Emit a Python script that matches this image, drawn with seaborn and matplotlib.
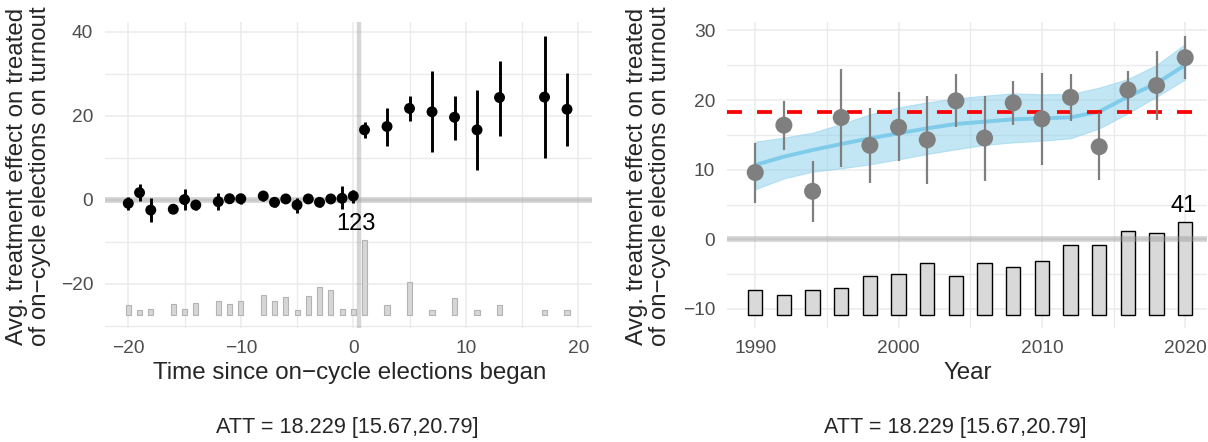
import numpy as np
import matplotlib
matplotlib.use("Agg")
import matplotlib.pyplot as plt
import seaborn as sns

# ---- event-time estimates (left panel) ----
pre_time = [-20, -19, -18, -16, -15, -14, -12, -11, -10, -8, -7, -6, -5, -4, -3, -2, -1, 0]
pre_att = [-0.8, 1.75, -2.4, -2.2, 0.1, -1.2, -0.4, 0.3, 0.3, 0.95, -0.55, 0.25, -1.2, 0.25, -0.55, 0.25, 0.4, 0.95]
pre_lo = [-2.3, -0.2, -5.2, -3.2, -2.5, -2.4, -2.4, -0.8, -0.9, -0.2, -1.6, -0.8, -3.2, -0.8, -1.6, -0.8, -2.1, -0.8]
pre_hi = [0.7, 3.7, 0.4, -1.2, 2.5, 0.0, 1.6, 1.3, 1.4, 2.0, 0.5, 1.3, 0.4, 1.3, 0.5, 1.3, 3.3, 2.4]

post_time = [1, 3, 5, 7, 9, 11, 13, 17, 19]
post_att = [16.7, 17.5, 21.8, 21.0, 19.7, 16.7, 24.4, 24.5, 21.6]
post_lo = [14.7, 12.9, 18.9, 11.4, 14.2, 7.1, 15.3, 9.9, 12.8]
post_hi = [18.6, 21.8, 24.8, 30.6, 24.8, 26.1, 33.2, 39.0, 30.2]

# number of treated units observed at each relative period
event_count = [17, 8, 10, 18, 10, 20, 24, 18, 24, 33, 23, 30, 8, 32, 46, 41, 10, 10,
               123, 16, 54, 8, 28, 8, 17, 9, 8]

# ---- calendar-year estimates (right panel) ----
years = [1990, 1992, 1994, 1996, 1998, 2000, 2002, 2004, 2006, 2008, 2010, 2012, 2014, 2016, 2018, 2020]
year_att = [9.6, 16.4, 6.9, 17.5, 13.5, 16.1, 14.3, 19.9, 14.55, 19.6, 17.3, 20.4, 13.3, 21.45, 22.1, 26.1]
year_lo = [5.2, 12.8, 2.5, 10.4, 8.1, 11.25, 7.9, 16.1, 8.4, 16.4, 10.7, 17.0, 8.5, 18.6, 17.2, 23.0]
year_hi = [13.9, 19.9, 11.25, 24.4, 18.8, 21.1, 20.6, 23.7, 20.6, 22.8, 23.85, 23.7, 18.1, 24.2, 27.05, 29.2]
year_count = [11, 9, 11, 12, 17, 18, 23, 17, 23, 21, 24, 31, 31, 37, 36, 41]

# smoothed trend and its band at each year
trend_fit = [10.68, 11.87, 12.83, 13.69, 14.51, 15.23, 15.94, 16.57, 16.90, 17.24, 17.38, 17.52, 18.34, 20.49, 22.41, 25.04]
trend_lo = [7.18, 8.76, 9.72, 10.20, 10.77, 11.49, 12.26, 12.93, 13.55, 13.93, 14.17, 14.51, 15.94, 18.10, 20.49, 22.98]
trend_hi = [14.03, 14.60, 15.32, 16.57, 17.96, 18.96, 19.68, 20.25, 20.64, 20.97, 20.83, 20.88, 21.79, 23.03, 25.04, 28.06]

att_overall = 18.229
att_text = "ATT = 18.229 [15.67,20.79]"
ylabel_text = "Avg. treatment effect on treated\nof on\u2212cycle elections on turnout"

sns.set_theme(style="whitegrid")
plt.rcParams["font.family"] = ["Liberation Sans", "DejaVu Sans"]

W, H = 1208, 442
fig = plt.figure(figsize=(W / 100, H / 100), dpi=100)
fig.patch.set_facecolor("white")


def px_axes(x0, x1, y0, y1):
    return fig.add_axes([x0 / W, 1 - y1 / H, (x1 - x0) / W, (y1 - y0) / H])


def style_axes(ax, xmajor, xminor, ymajor, yminor):
    ax.set_facecolor("white")
    for s in ax.spines.values():
        s.set_visible(False)
    ax.set_xticks(xmajor)
    ax.set_xticks(xminor, minor=True)
    ax.set_yticks(ymajor)
    ax.set_yticks(yminor, minor=True)
    ax.grid(True, which="major", color="#ebebeb", lw=1.1)
    ax.grid(True, which="minor", color="#ebebeb", lw=1.0)
    ax.tick_params(which="both", length=0, labelsize=13.8, labelcolor="#4d4d4d", pad=8.5)
    ax.set_axisbelow(True)
    ax.set_xlabel("")
    ax.set_ylabel("")


# ================= left panel =================
axL = px_axes(105, 592, 22, 328)
all_time = pre_time + post_time
base_L, span_L = -27.45, 17.93
axL.bar(all_time, np.array(event_count) / max(event_count) * span_L, bottom=base_L,
        width=0.45, color="#d6d6d6", edgecolor="#b3b3b3", linewidth=0.8, zorder=1)
axL.axhline(0, color="#999999", alpha=0.45, lw=4.0, zorder=2)
axL.axvline(0.5, color="#999999", alpha=0.4, lw=3.2, zorder=2)

axL.vlines(pre_time, pre_lo, pre_hi, color="black", lw=2.1, zorder=3)
axL.vlines(post_time, post_lo, post_hi, color="black", lw=2.1, zorder=3)
sns.scatterplot(x=all_time, y=pre_att + post_att, ax=axL, color="black",
                s=62, edgecolor="none", linewidth=0, zorder=4, legend=False)
axL.text(0.28, -7.14, str(max(event_count)), fontsize=17, ha="center", va="baseline", color="black")

style_axes(axL, [-20, -10, 0, 10, 20], [-15, -5, 5, 15], [-20, 0, 20, 40], [-30, -10, 10, 30])
axL.set_xlim(-22.07, 21.22)
axL.set_ylim(-30.48, 42.38)

# ================= right panel =================
axR = px_axes(727, 1207, 22, 328)
base_R, span_R = -10.88, 13.37
axR.bar(years, np.array(year_count) / max(year_count) * span_R, bottom=base_R,
        width=1.0, color="#d9d9d9", edgecolor="black", linewidth=1.0, zorder=1)
axR.axhline(0, color="#999999", alpha=0.45, lw=4.0, zorder=2)

axR.fill_between(years, trend_lo, trend_hi, color="#87CEEB", alpha=0.5,
                 edgecolor="#87CEEB", linewidth=0.8, zorder=2.5)
sns.lineplot(x=years, y=trend_fit, ax=axR, color="#7fcbea", lw=2.8, zorder=2.6, legend=False)
axR.axhline(att_overall, color="#ff0000", lw=2.7, dashes=(4, 4), zorder=2.8)

axR.vlines(years, year_lo, year_hi, color="#7f7f7f", lw=1.6, zorder=3)
sns.scatterplot(x=years, y=year_att, ax=axR, color="#7f7f7f",
                s=150, edgecolor="none", linewidth=0, zorder=4, legend=False)
axR.text(2019.87, 3.88, str(max(year_count)), fontsize=17, ha="center", va="baseline", color="black")

style_axes(axR, [1990, 2000, 2010, 2020], [1995, 2005, 2015], [-10, 0, 10, 20, 30], [-5, 5, 15, 25])
axR.set_xlim(1988.03, 2021.52)
axR.set_ylim(-12.74, 31.22)

# ================= labels =================
fs_axis = 17.4
fs_caption = 15.6
fig.text(28.5 / W, 1 - 176 / H, ylabel_text, rotation=90, ha="center", va="center",
         fontsize=fs_axis, linespacing=1.08, multialignment="center")
fig.text(648.3 / W, 1 - 176 / H, ylabel_text, rotation=90, ha="center", va="center",
         fontsize=fs_axis, linespacing=1.08, multialignment="center")
fig.text(350 / W, 1 - 373 / H, "Time since on\u2212cycle elections began", ha="center", va="center",
         fontsize=fs_axis)
fig.text(968 / W, 1 - 373 / H, "Year", ha="center", va="center", fontsize=fs_axis)
fig.text(347 / W, 1 - 428 / H, att_text, ha="center", va="center", fontsize=fs_caption)
fig.text(955 / W, 1 - 428 / H, att_text, ha="center", va="center", fontsize=fs_caption)

fig.savefig("out.png", dpi=100, facecolor="white")
